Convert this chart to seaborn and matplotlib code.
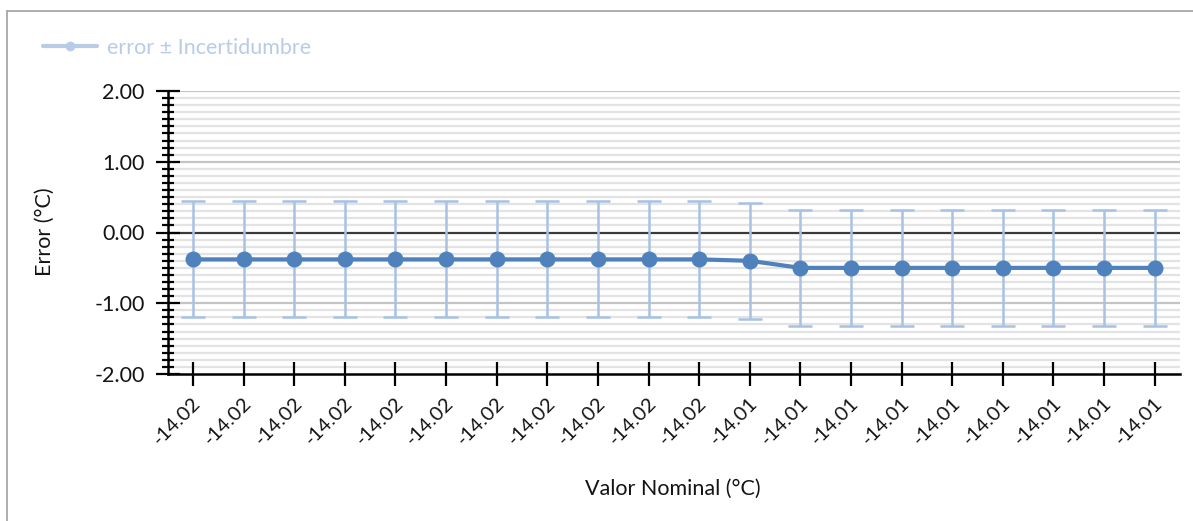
import matplotlib
matplotlib.use("Agg")
import matplotlib.pyplot as plt
import matplotlib.transforms as mtransforms
import seaborn as sns
import numpy as np
import pandas as pd
from matplotlib.ticker import MultipleLocator
from matplotlib.lines import Line2D

# ---- data ----
nominal_labels = ["-14.02"] * 11 + ["-14.01"] * 9
error_values = [-0.38] * 11 + [-0.40] + [-0.50] * 8
uncertainty = [0.82] * 20

sns.set_theme(style="white")
plt.rcParams['font.family'] = ['Lato', 'DejaVu Sans']

LINE_C = "#4f81bd"
ERR_C = "#a7c2e3"
LEG_C = "#b8cce8"
TXT_C = "#141414"

fig = plt.figure(figsize=(11.93, 5.21), dpi=100)
L, R, T, B = 167.7, 1180, 91, 374
ax = fig.add_axes([L / 1193, 1 - B / 521, (R - L) / 1193, (B - T) / 521])
ax.set_axisbelow(False)

df = pd.DataFrame({"pos": np.arange(len(error_values)), "error": error_values,
                   "u": uncertainty, "label": nominal_labels})

ax.errorbar(df["pos"], df["error"], yerr=df["u"], fmt="none", ecolor=ERR_C,
            elinewidth=1.8, capsize=8.5, capthick=1.8, zorder=3)
sns.lineplot(data=df, x="pos", y="error", ax=ax, color=LINE_C, linewidth=3.0,
             marker="o", markersize=11.5, markeredgewidth=0, zorder=4, legend=False)

ax.set_xlim(-0.5, len(error_values) - 0.5)
ax.set_ylim(-2, 2)

# grid
ax.yaxis.set_major_locator(MultipleLocator(1.0))
ax.yaxis.set_minor_locator(MultipleLocator(0.1))
ax.grid(False)
for v in np.round(np.arange(-1.9, 2.0, 0.1), 2):
    if abs(v - round(v)) > 1e-6:
        ax.axhline(v, color="#e3e3e3", lw=1.6, zorder=1)
for v in [-1, 1, 2]:
    ax.axhline(v, color="#c4c4c4", lw=1.6, zorder=1.5)
ax.axhline(0, color="#3a3a3a", lw=1.6, zorder=2)

ax.yaxis.set_major_formatter(matplotlib.ticker.FuncFormatter(lambda v, p: f"{v:.2f}"))

# x ticks with rotated category labels
ax.set_xticks(df["pos"])
ax.set_xticklabels([])
lbl_tr = ax.get_xaxis_transform() + mtransforms.ScaledTranslation(
    5 / 100, -26.5 / 100, fig.dpi_scale_trans)
for p, lab in zip(df["pos"], df["label"]):
    ax.text(p, 0, lab, transform=lbl_tr, rotation=45, ha="right", va="center",
            rotation_mode="anchor", fontsize=14.5, color=TXT_C, clip_on=False)

ax.tick_params(axis="y", which="major", direction="inout", length=17, width=1.6,
               color="black", labelsize=15.5, labelcolor=TXT_C, pad=8, left=True)
ax.tick_params(axis="y", which="minor", direction="inout", length=8.5, width=1.6,
               color="black", left=True)
ax.tick_params(axis="x", which="major", direction="inout", length=17, width=1.6,
               color="black", pad=4, bottom=True)

for s in ["top", "right"]:
    ax.spines[s].set_visible(False)
for s in ["left", "bottom"]:
    ax.spines[s].set_color("black")
    ax.spines[s].set_linewidth(1.8)
    ax.spines[s].set_zorder(5)

ax.set_xlabel("Valor Nominal (°C)", fontsize=15.5, color=TXT_C)
ax.set_ylabel("Error (°C)", fontsize=15.5, color=TXT_C)
ax.xaxis.set_label_coords((673 - L) / (R - L), -(479 - B) / (B - T))
ax.yaxis.set_label_coords(-(L - 55) / (R - L), 1 - (232 - T) / (B - T))

# legend
handle = Line2D([0], [0], color=LEG_C, lw=3.0, marker="o", markersize=7,
                markeredgewidth=0)
fig.legend([handle], ["error ± Incertidumbre"], loc="center left",
           bbox_to_anchor=(24 / 1193, 1 - 48 / 521), frameon=False,
           fontsize=15.5, labelcolor=LEG_C, handlelength=2.5, handletextpad=0.45)

# outer border
fig.add_artist(Line2D([7 / 1193, 1], [1 - 11 / 521, 1 - 11 / 521], color="#a0a0a0", lw=1.2,
                      transform=fig.transFigure))
fig.add_artist(Line2D([7 / 1193, 7 / 1193], [0, 1 - 11 / 521], color="#a0a0a0", lw=1.2,
                      transform=fig.transFigure))

fig.savefig("out.png", dpi=100)
